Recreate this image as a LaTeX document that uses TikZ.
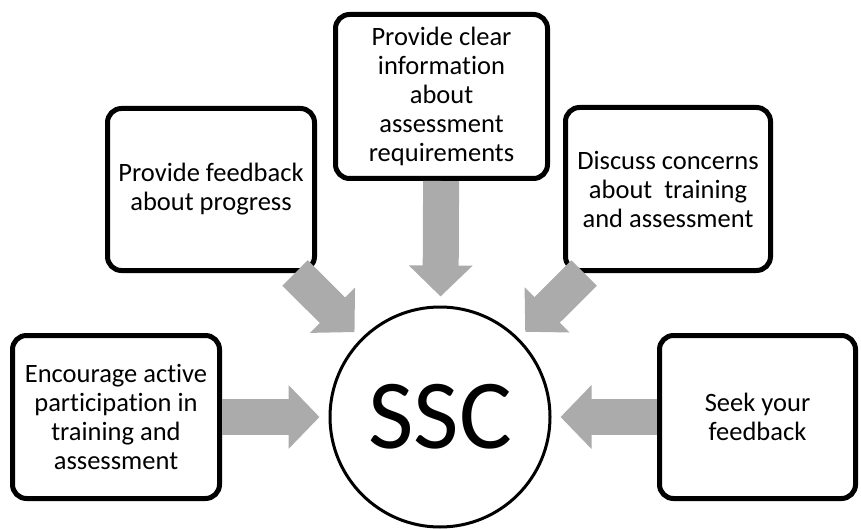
\documentclass[tikz,border=0pt]{standalone}
\usepackage{fontspec}
\setmainfont{Carlito}[Ligatures=CommonOff]
\usetikzlibrary{arrows.meta}
\definecolor{arrowgray}{RGB}{171,171,171}
\tikzstyle{task}=[draw, line width=5pt, rounded corners=14pt, fill=white, align=center,
inner sep=0pt, font=\fontsize{26.5}{29}\selectfont]
\tikzstyle{centre}=[circle, draw, line width=3pt, minimum size=220pt, inner sep=0pt,
font=\fontsize{99}{110}\selectfont]
\tikzstyle{push}=[draw=arrowgray, line width=36pt, shorten >=9pt,
-{Triangle[length=31pt,width=62pt]}]

\begin{document}
\begin{tikzpicture}[x=1pt,y=-1pt]
\useasboundingbox (0,0) rectangle (861,529);
\node[centre](ssc)at (440,417){SSC};
\node[task, minimum width=207pt, minimum height=163pt](encourage)at (116,417)
{Encourage active\\participation in\\training and\\assessment};
\node[task, minimum width=207pt, minimum height=162pt](progress)at (211,189.5)
{Provide feedback\\about progress};
\node[task, minimum width=212pt, minimum height=164pt](info)at (441.5,96.5)
{Provide clear\\information\\about\\assessment\\requirements};
\node[task, minimum width=205pt, minimum height=163pt](concerns)at (668,189)
{Discuss concerns\\about~~training\\and assessment};
\node[task, minimum width=196pt, minimum height=163pt](seek)at (757.5,417)
{Seek your\\feedback};
\draw [push](encourage) -- (ssc);
\draw [push](progress) -- (ssc);
\draw [push](info) -- (ssc);
\draw [push](concerns) -- (ssc);
\draw [push](seek) -- (ssc);
\end{tikzpicture}
\end{document}
